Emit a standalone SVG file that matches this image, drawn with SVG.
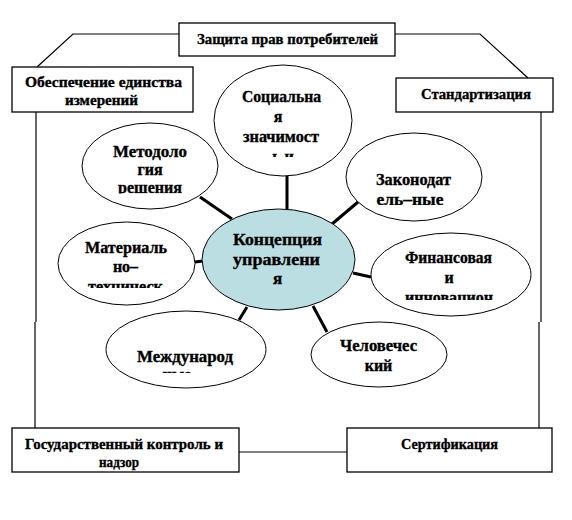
<svg xmlns="http://www.w3.org/2000/svg" width="572" height="520" viewBox="0 0 572 520">
<style>
  .box { fill: #ffffff; stroke: #000000; stroke-width: 1.3; }
  .ell { fill: #ffffff; stroke: #000000; stroke-width: 1; }
  .core { fill: #badee2; stroke: #000000; stroke-width: 1; }
  .thin { fill: none; stroke: #000000; stroke-width: 1.2; }
  .thick { fill: none; stroke: #000000; stroke-width: 3; }
  text { font-family: "Liberation Serif", "DejaVu Serif", "Times New Roman", serif; font-weight: bold; fill: #000000; stroke: #000000; stroke-width: 0.35; text-anchor: middle; }
  .bt { font-size: 15px; }
  .et { font-size: 16px; }
  .ct { font-size: 17px; }
</style>
<defs>
  <clipPath id="c-soc"><rect x="200" y="70" width="170" height="87"/></clipPath>
  <clipPath id="c-met"><rect x="80" y="130" width="140" height="63.5"/></clipPath>
  <clipPath id="c-zak"><rect x="345" y="150" width="140" height="55"/></clipPath>
  <clipPath id="c-mat"><rect x="55" y="230" width="140" height="58"/></clipPath>
  <clipPath id="c-mez"><rect x="105" y="330" width="165" height="43"/></clipPath>
  <clipPath id="c-fin"><rect x="370" y="240" width="160" height="60"/></clipPath>
</defs>
<rect width="572" height="520" fill="#ffffff"/>

<g id="connectors">
  <polyline class="thin" points="179,34 73,34 37,67"/>
  <polyline class="thin" points="395,34 480,34 528,78"/>
  <line class="thin" x1="36" y1="112" x2="36" y2="322"/>
  <line class="thin" x1="35" y1="322" x2="35" y2="428"/>
  <line class="thin" x1="541" y1="112" x2="541" y2="322"/>
  <line class="thin" x1="539" y1="322" x2="539" y2="428"/>
  <line class="thin" x1="239" y1="452" x2="347" y2="452"/>
  <line class="thick" x1="287" y1="176" x2="287" y2="210"/>
  <line class="thick" x1="200" y1="197" x2="232" y2="219"/>
  <line class="thick" x1="358" y1="202" x2="332" y2="224"/>
  <line class="thick" x1="195" y1="262" x2="203" y2="261"/>
  <line class="thick" x1="353" y1="273" x2="371" y2="277"/>
  <line class="thick" x1="313" y1="306" x2="327" y2="332"/>
  <line class="thick" x1="247" y1="307" x2="239" y2="320"/>
</g>

<g id="node-zashchita">
  <rect class="box" x="179" y="23" width="216" height="33"/>
  <text class="bt" x="287.5" y="44" textLength="181" lengthAdjust="spacingAndGlyphs">Защита прав потребителей</text>
</g>
<g id="node-obespechenie">
  <rect class="box" x="12" y="67" width="181" height="45"/>
  <text class="bt" x="103.5" y="87" textLength="157" lengthAdjust="spacingAndGlyphs">Обеспечение единства</text>
  <text class="bt" x="101.5" y="105" textLength="73" lengthAdjust="spacingAndGlyphs">измерений</text>
</g>
<g id="node-standartizatsiya">
  <rect class="box" x="396" y="78" width="157" height="34"/>
  <text class="bt" x="476" y="99" textLength="110" lengthAdjust="spacingAndGlyphs">Стандартизация</text>
</g>
<g id="node-goskontrol">
  <rect class="box" x="12" y="428" width="227" height="44"/>
  <text class="bt" x="124" y="449" textLength="198" lengthAdjust="spacingAndGlyphs">Государственный контроль и</text>
  <text class="bt" x="119" y="467" textLength="40" lengthAdjust="spacingAndGlyphs">надзор</text>
</g>
<g id="node-sertifikatsiya">
  <rect class="box" x="347" y="428" width="205" height="44"/>
  <text class="bt" x="449.5" y="449" textLength="97" lengthAdjust="spacingAndGlyphs">Сертификация</text>
</g>

<g id="node-sotsialnaya">
  <ellipse class="ell" cx="283" cy="120.5" rx="69" ry="55.5"/>
  <g clip-path="url(#c-soc)">
    <text class="et" x="281.5" y="102" textLength="79" lengthAdjust="spacingAndGlyphs">Социальна</text>
    <text class="et" x="278" y="122">я</text>
    <text class="et" x="281" y="142" textLength="76" lengthAdjust="spacingAndGlyphs">значимост</text>
    <text class="et" x="283" y="162">ь и</text>
  </g>
</g>
<g id="node-metodologiya">
  <ellipse class="ell" cx="150" cy="166" rx="68" ry="43"/>
  <g clip-path="url(#c-met)">
    <text class="et" x="150" y="157" textLength="74" lengthAdjust="spacingAndGlyphs">Методоло</text>
    <text class="et" x="150" y="175">гия</text>
    <text class="et" x="150" y="193" textLength="64" lengthAdjust="spacingAndGlyphs">решения</text>
  </g>
</g>
<g id="node-zakonodatelnye">
  <ellipse class="ell" cx="414" cy="177" rx="68" ry="44"/>
  <g clip-path="url(#c-zak)">
    <text class="et" x="413.5" y="185" textLength="75" lengthAdjust="spacingAndGlyphs">Законодат</text>
    <text class="et" x="410" y="205" textLength="67" lengthAdjust="spacingAndGlyphs">ель–ные</text>
  </g>
</g>
<g id="node-materialno">
  <ellipse class="ell" cx="126.5" cy="263.5" rx="68.5" ry="41.5"/>
  <g clip-path="url(#c-mat)">
    <text class="et" x="126" y="253" textLength="82" lengthAdjust="spacingAndGlyphs">Материаль</text>
    <text class="et" x="125.5" y="272">но–</text>
    <text class="et" x="125.5" y="292" textLength="75" lengthAdjust="spacingAndGlyphs">техническ</text>
  </g>
</g>
<g id="node-kontseptsiya">
  <ellipse class="core" cx="278.5" cy="259.5" rx="76.5" ry="50.5"/>
  <text class="ct" x="277.5" y="245" textLength="89" lengthAdjust="spacingAndGlyphs">Концепция</text>
  <text class="ct" x="276.5" y="265" textLength="87" lengthAdjust="spacingAndGlyphs">управлени</text>
  <text class="ct" x="277.5" y="284">я</text>
</g>
<g id="node-finansovaya">
  <ellipse class="ell" cx="451" cy="274.5" rx="80" ry="41.5"/>
  <g clip-path="url(#c-fin)">
    <text class="et" x="448.5" y="263" textLength="87" lengthAdjust="spacingAndGlyphs">Финансовая</text>
    <text class="et" x="449" y="283">и</text>
    <text class="et" x="449" y="303" textLength="88" lengthAdjust="spacingAndGlyphs">инновацион</text>
  </g>
</g>
<g id="node-mezhdunarodnye">
  <ellipse class="ell" cx="186" cy="349.5" rx="80" ry="38.5"/>
  <g clip-path="url(#c-mez)">
    <text class="et" x="185" y="362" textLength="96" lengthAdjust="spacingAndGlyphs">Международ</text>
    <text class="et" x="177" y="380">ные</text>
  </g>
</g>
<g id="node-chelovecheskiy">
  <ellipse class="ell" cx="379" cy="354.5" rx="68" ry="32.5"/>
  <text class="et" x="378.5" y="351" textLength="77" lengthAdjust="spacingAndGlyphs">Человечес</text>
  <text class="et" x="378.5" y="371">кий</text>
</g>
</svg>
